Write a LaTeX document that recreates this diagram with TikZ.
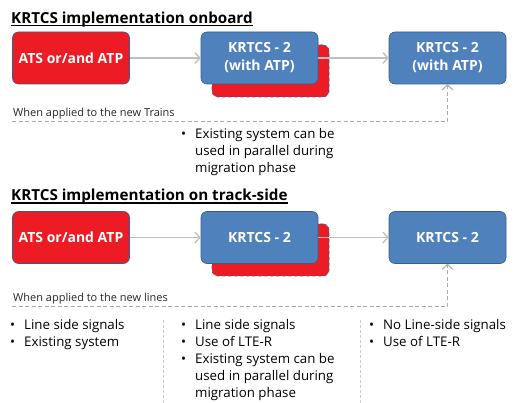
\documentclass[tikz,border=0pt]{standalone}
\usepackage{fontspec}
\setmainfont{Open Sans}
\usetikzlibrary{arrows.meta}
\definecolor{boxred}{RGB}{237,28,36}
\definecolor{boxblue}{RGB}{79,129,189}
\definecolor{edgeblue}{RGB}{56,93,138}
\definecolor{flowgray}{RGB}{191,191,191}
\definecolor{dashgray}{RGB}{170,170,170}
\definecolor{sepgray}{RGB}{205,205,205}
\newcommand{\itm}[1]{\makebox[14pt][l]{\textbullet}#1}
\newcommand{\cnt}[1]{\hspace*{14pt}#1}
\begin{document}
\begin{tikzpicture}[x=1pt,y=-1pt,
  box/.style={draw=edgeblue, line width=0.6pt, rounded corners=6pt,
    minimum width=117pt, minimum height=52pt, text=white,
    font=\bfseries\fontsize{14}{18}\selectfont, align=center, inner sep=0pt},
  redbox/.style={box, fill=boxred},
  bluebox/.style={box, fill=boxblue},
  shadowbox/.style={box, fill=boxred, dashed},
  flow/.style={draw=flowgray, line width=1.3pt, -{Straight Barb[length=5pt,width=11pt]}},
  feedback/.style={draw=dashgray, line width=1pt, dash pattern=on 4pt off 2.5pt,
    -{Straight Barb[length=5pt,width=11pt]}},
  sep/.style={draw=sepgray, line width=0.7pt, dash pattern=on 3pt off 2pt},
  title/.style={anchor=base west, inner sep=0pt, font=\bfseries\fontsize{15.2}{19}\selectfont},
  rule/.style={line width=1.1pt},
  note/.style={anchor=base west, inner sep=0pt, font=\fontsize{11}{13}\selectfont, text=black!85},
  bullets/.style={anchor=north west, inner sep=0pt, align=left,
    font=\fontsize{13.3}{17}\selectfont}
]
\useasboundingbox (0,0) rectangle (523,403);

% --- onboard implementation ---
\node[title] (t1) at (11,23.3) {KRTCS implementation onboard};
\draw[rule] ([yshift=-2pt]t1.base west) -- ([yshift=-2pt]t1.base east);
\node[redbox] (a1) at (71,58) {ATS or/and ATP};
\node[shadowbox] (s1) at (270.5,71) {};
\node[bluebox] (b1) at (259.5,58) {KRTCS - 2\\(with ATP)};
\node[bluebox] (c1) at (447.5,58) {KRTCS - 2\\(with ATP)};
\draw[flow] (a1) -- (b1);
\draw[flow] (b1) -- (c1);
\coordinate (f1) at (12,122);
\draw[feedback] (f1) -| (c1.south);
\node[note] (n1) at (13,117) {When applied to the new Trains};
\node[bullets] (l1) at (181,128) {\itm{Existing system can be}\\\cnt{used in parallel during}\\\cnt{migration phase}};

% --- track-side implementation ---
\node[title] (t2) at (11,201) {KRTCS implementation on track-side};
\draw[rule] ([yshift=-2pt]t2.base west) -- ([yshift=-2pt]t2.base east);
\node[redbox] (a2) at (71,237.5) {ATS or/and ATP};
\node[shadowbox] (s2) at (270.5,250) {};
\node[bluebox] (b2) at (259.5,237.5) {KRTCS - 2};
\node[bluebox] (c2) at (447.5,237.5) {KRTCS - 2};
\draw[flow] (a2) -- (b2);
\draw[flow] (b2) -- (c2);
\coordinate (f2) at (12,307);
\draw[feedback] (f2) -| (c2.south);
\node[note] (n2) at (13,302) {When applied to the new lines};

\node[bullets] (k1) at (10,319) {\itm{Line side signals}\\\itm{Existing system}};
\node[bullets] (k2) at (181,319) {\itm{Line side signals}\\\itm{Use of LTE-R}\\\itm{Existing system can be}\\\cnt{used in parallel during}\\\cnt{migration phase}};
\node[bullets] (k3) at (369,319) {\itm{No Line-side signals}\\\itm{Use of LTE-R}};
\draw[sep] (163,320) -- (163,403);
\draw[sep] (360,320) -- (360,403);
\end{tikzpicture}
\end{document}
